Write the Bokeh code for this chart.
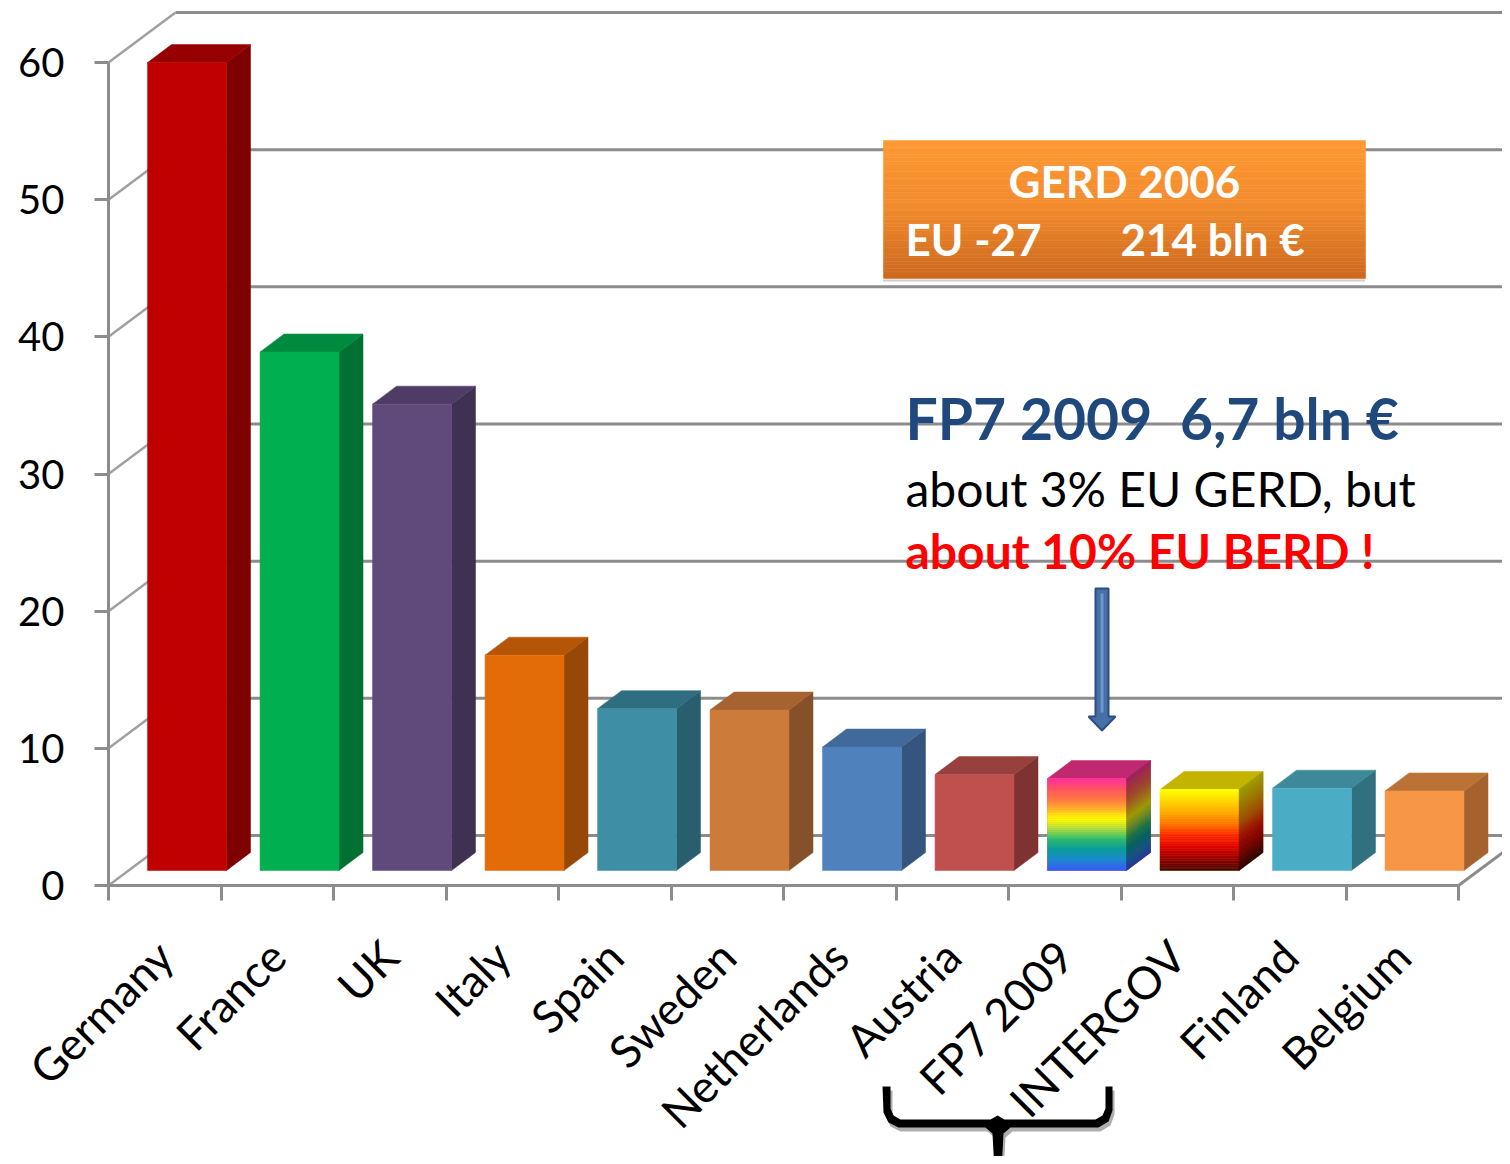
import math
from bokeh.plotting import figure
from bokeh.models import Range1d, FixedTicker
from bokeh.core.properties import value
from bokeh.embed import file_html
from bokeh.resources import INLINE

# ---------------- data ----------------
categories = ["Germany", "France", "UK", "Italy", "Spain", "Sweden", "Netherlands",
              "Austria", "FP7 2009", "INTERGOV", "Finland", "Belgium"]
gerd_bln_eur = [58.9, 37.8, 34.0, 15.7, 11.8, 11.7, 9.0, 7.0, 6.7, 5.9, 6.0, 5.8]
y_ticks = [0, 10, 20, 30, 40, 50, 60]

# ---------------- styles ----------------
front_colors = ["#C00000", "#00B050", "#604A7B", "#E36C09", "#3E8FA6", "#CC7B3A",
                "#4F81BD", "#C0504D", "#FF3399", "#FFFF00", "#4BACC6", "#F79646"]
side_colors = ["#7F0000", "#007033", "#3F3151", "#974806", "#285E6E", "#86502A",
               "#36557E", "#7E3331", "#A03060", "#8A7A00", "#31707F", "#A5612E"]
top_colors = ["#960000", "#008A3F", "#4E3C66", "#B45508", "#2F6E80", "#A66230",
              "#41699A", "#97403D", "#C0286F", "#C4B400", "#3D8899", "#BB7236"]
rainbow_stops = ["#FF3399", "#FF5560", "#FF7A40", "#FFB828", "#FFFF00", "#A6E040",
                 "#28BE70", "#00A29A", "#1C8AD0", "#2D63F5"]
fire_stops = ["#FFFF00", "#FFD400", "#FFA600", "#FF7400", "#FF2600", "#E00000",
              "#9C0000", "#4C0000"]
GRID = "#8C8C8C"
FONT = "Lato"

# ---------------- geometry (screen scale of the 3D look) ----------------
PX_X = 112.5            # px per category
PX_Y = 823.0 / 60.0     # px per value unit on the front plane
WALL_DX, WALL_DY = 67 / PX_X, 50 / PX_Y     # depth of floor / side wall
BAR_BASE = 15 / PX_Y                        # bars stand 30% deep
BAR_X0, BAR_W = 0.347, 0.702
BAR_DX, BAR_DY = 24 / PX_X, 18 / PX_Y       # bar depth
WIDTH, HEIGHT = 1502, 1156
TXT = 20   # baseline correction of svg text (px)


def gx(px):
    return (px - 108) / PX_X


def gy(py):
    return (885 - py) / PX_Y


X_END = gx(WIDTH)


def hex2rgb(h):
    h = h.lstrip("#")
    return tuple(int(h[i:i + 2], 16) for i in (0, 2, 4))


def rgb2hex(c):
    return "#%02X%02X%02X" % tuple(max(0, min(255, int(round(v)))) for v in c)


def interp(stops, n):
    rgbs = [hex2rgb(s) for s in stops]
    out = []
    for k in range(n):
        t = k / (n - 1) * (len(rgbs) - 1)
        i = min(int(t), len(rgbs) - 2)
        f = t - i
        a, b = rgbs[i], rgbs[i + 1]
        out.append(rgb2hex([a[j] + (b[j] - a[j]) * f for j in range(3)]))
    return out


def darken(c, f):
    return rgb2hex([v * f for v in hex2rgb(c)])


p = figure(frame_width=WIDTH, frame_height=HEIGHT, width=WIDTH, height=HEIGHT,
           x_range=Range1d(gx(0), X_END), y_range=Range1d(gy(HEIGHT), gy(0)),
           output_backend="svg", toolbar_location=None,
           min_border_left=0, min_border_right=0, min_border_top=0, min_border_bottom=0)
p.xgrid.visible = False
p.ygrid.visible = False
p.outline_line_color = None
p.background_fill_color = "white"
p.border_fill_color = "white"

# ---------------- axes ----------------
xa = p.xaxis[0]
xa.fixed_location = 0
xa.ticker = FixedTicker(ticks=[i + 0.5 for i in range(len(categories))],
                        minor_ticks=list(range(len(categories) + 1)))
xa.major_label_overrides = {i + 0.5: c for i, c in enumerate(categories)}
xa.major_label_orientation = math.pi / 4
xa.bounds = (0, len(categories))
xa.major_tick_out = 0
xa.major_tick_in = 0
xa.minor_tick_out = 15
xa.minor_tick_in = 0
xa.minor_tick_line_color = GRID
xa.minor_tick_line_width = 3
xa.axis_line_color = GRID
xa.axis_line_width = 3
xa.major_label_text_font = FONT
xa.major_label_text_font_size = "45px"
xa.major_label_text_color = "black"
xa.major_label_standoff = 48

ya = p.yaxis[0]
ya.fixed_location = 0
ya.ticker = FixedTicker(ticks=y_ticks)
ya.bounds = (0, 60)
ya.major_tick_out = 14
ya.major_tick_in = 0
ya.minor_tick_out = 0
ya.minor_tick_in = 0
ya.major_tick_line_color = GRID
ya.major_tick_line_width = 3
ya.axis_line_color = GRID
ya.axis_line_width = 3
ya.major_label_text_font = FONT
ya.major_label_text_font_size = "40px"
ya.major_label_text_color = "black"
ya.major_label_standoff = 30

# ---------------- walls / floor ----------------
back_xs, back_ys, side_xs, side_ys = [], [], [], []
for v in y_ticks:
    back_xs.append([WALL_DX, X_END])
    back_ys.append([v + WALL_DY, v + WALL_DY])
    side_xs.append([0, WALL_DX])
    side_ys.append([v, v + WALL_DY])
p.multi_line(back_xs, back_ys, line_color=GRID, line_width=3)
p.multi_line(side_xs, side_ys, line_color="#A0A0A0", line_width=2.5)
n_cat = len(categories)
p.line([n_cat, n_cat + WALL_DX], [0, WALL_DY], line_color=GRID, line_width=3)

# ---------------- bars ----------------
lefts = [i + BAR_X0 for i in range(n_cat)]
rights = [l + BAR_W for l in lefts]
bottoms = [BAR_BASE] * n_cat
tops = [BAR_BASE + v for v in gerd_bln_eur]

side_px, side_py, top_px, top_py = [], [], [], []
for l, r, b, t in zip(lefts, rights, bottoms, tops):
    side_px.append([r, r + BAR_DX, r + BAR_DX, r])
    side_py.append([b, b + BAR_DY, t + BAR_DY, t])
    top_px.append([l, r, r + BAR_DX, l + BAR_DX])
    top_py.append([t, t, t + BAR_DY, t + BAR_DY])

p.patches(side_px, side_py, fill_color=side_colors, line_color=side_colors, line_width=0.5)
p.patches(top_px, top_py, fill_color=top_colors, line_color=top_colors, line_width=0.5)
p.quad(left=lefts, right=rights, bottom=bottoms, top=tops,
       fill_color=front_colors, line_color=front_colors, line_width=0.5)

# gradient bars (FP7 2009 rainbow, INTERGOV fire)
for idx, stops in ((categories.index("FP7 2009"), rainbow_stops),
                   (categories.index("INTERGOV"), fire_stops)):
    n = 48
    cols = interp(stops, n)
    l, r, b, t = lefts[idx], rights[idx], bottoms[idx], tops[idx]
    h = (t - b) / n
    qt = [t - k * h for k in range(n)]
    qb = [t - (k + 1) * h for k in range(n)]
    p.quad(left=[l] * n, right=[r] * n, top=qt, bottom=qb,
           fill_color=cols, line_color=cols, line_width=0.5)
    sxs, sys_ = [], []
    for k in range(n):
        sxs.append([r, r + BAR_DX, r + BAR_DX, r])
        sys_.append([qb[k], qb[k] + BAR_DY, qt[k] + BAR_DY, qt[k]])
    scol = [darken(c, 0.62) for c in cols]
    p.patches(sxs, sys_, fill_color=scol, line_color=scol, line_width=0.5)

# ---------------- GERD box ----------------
bx0, bx1, by_top, by_bot = gx(883), gx(1365), gy(140), gy(278)
nb = 40
bcols = interp(["#FF9933", "#F08A2C", "#CD691E"], nb)
bh = (by_top - by_bot) / nb
p.quad(left=[bx0] * nb, right=[bx1] * nb,
       top=[by_top - k * bh for k in range(nb)],
       bottom=[by_top - (k + 1) * bh for k in range(nb)],
       fill_color=bcols, line_color=bcols, line_width=0.5)
p.line([bx0, bx1], [gy(280), gy(280)], line_color="#9A9A9A", line_width=2, line_dash="1 1")

p.text(x=[gx(1124)], y=[gy(197 - TXT + 3)], text=["GERD 2006"], text_font=value(FONT),
       text_font_size=value("44px"), text_font_style="bold", text_color="white",
       text_align="center", text_baseline="alphabetic")
p.text(x=[gx(905), gx(1120)], y=[gy(255 - TXT + 3)] * 2, text=["EU -27", "214 bln €"],
       text_font=value(FONT), text_font_size=value("44px"), text_font_style="bold",
       text_color="white", text_align="left", text_baseline="alphabetic")

# ---------------- FP7 annotation ----------------
p.text(x=[gx(905)], y=[gy(437 - TXT)], text=["FP7 2009\u00a0 6,7 bln €"], text_font=value(FONT),
       text_font_size=value("57px"), text_font_style="bold", text_color="#1F497D",
       text_align="left", text_baseline="alphabetic")
p.text(x=[gx(905)], y=[gy(508 - TXT)], text=["about 3% EU GERD, but"], text_font=value(FONT),
       text_font_size=value("48px"), text_color="black",
       text_align="left", text_baseline="alphabetic")
p.text(x=[gx(905)], y=[gy(570 - TXT)], text=["about 10% EU BERD !"], text_font=value(FONT),
       text_font_size=value("48px"), text_font_style="bold", text_color="#FF0000",
       text_align="left", text_baseline="alphabetic")

# arrow
ax = [gx(v) for v in (1095, 1108, 1108, 1115, 1101.5, 1088, 1095)]
ay = [gy(v) for v in (588, 588, 716, 716, 730, 716, 716)]
p.patch(ax, ay, fill_color="#4670A6", line_color="#2C4F80", line_width=2)
p.line([gx(1101.5), gx(1101.5)], [gy(593), gy(712)], line_color="#6C96CC", line_width=3)

# ---------------- brace ----------------
brace_px = [882, 890, 890, 893, 900, 990, 997, 1004, 1095, 1102, 1105, 1105, 1112, 1112,
            1108, 1098, 1010, 1003, 1001, 994, 992, 985, 898, 888, 883]
brace_py = [1086, 1086, 1108, 1115, 1119, 1119, 1115, 1119, 1119, 1115, 1108, 1086, 1086, 1110,
            1121, 1127, 1127, 1133, 1170, 1170, 1133, 1127, 1127, 1122, 1112]
p.patch([gx(v + 2) for v in brace_px], [gy(v + 4) for v in brace_py],
        fill_color="#9A9A9A", fill_alpha=0.8, line_color=None)
p.patch([gx(v) for v in brace_px], [gy(v) for v in brace_py],
        fill_color="black", line_color=None)

open("out.html", "w").write(file_html(p, INLINE))
